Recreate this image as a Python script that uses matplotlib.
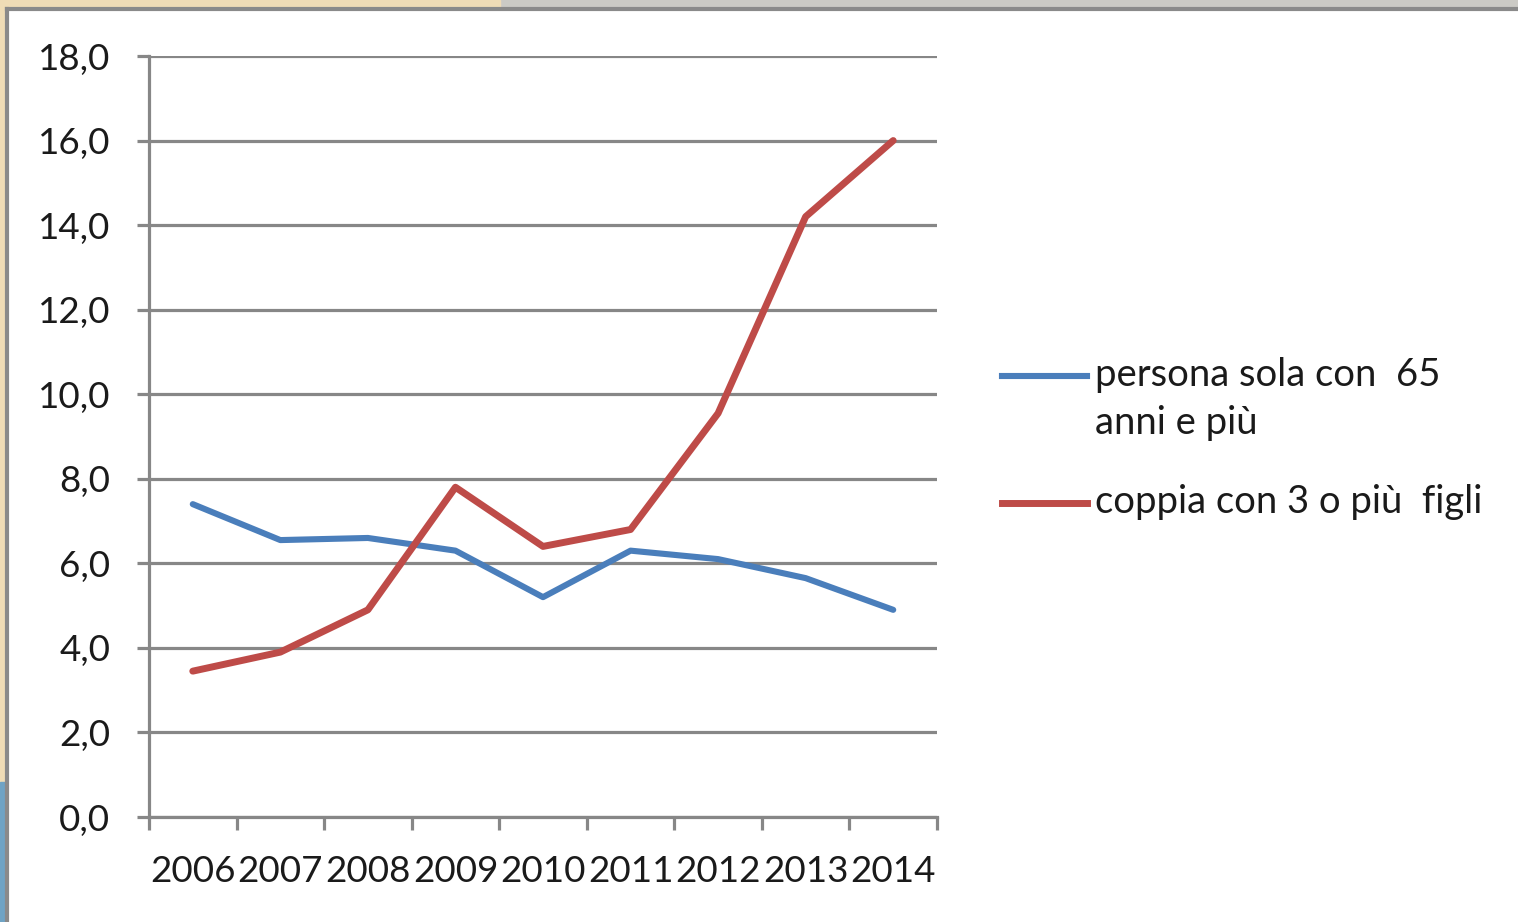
import matplotlib
matplotlib.use("Agg")
import matplotlib.pyplot as plt
from matplotlib.lines import Line2D
from matplotlib.patches import Rectangle
from matplotlib.ticker import FixedLocator, FuncFormatter

years = ["2006", "2007", "2008", "2009", "2010", "2011", "2012", "2013", "2014"]
persona_sola = [7.4, 6.55, 6.6, 6.3, 5.2, 6.3, 6.1, 5.65, 4.9]
coppia_3_figli = [3.45, 3.9, 4.9, 7.8, 6.4, 6.8, 9.55, 14.2, 16.0]
series_labels = ["persona sola con  65\nanni e più", "coppia con 3 o più  figli"]
series_colors = ["#4a7ebb", "#be4b48"]
yticks = [0, 2, 4, 6, 8, 10, 12, 14, 16, 18]

W, H = 1518, 922
fig = plt.figure(figsize=(W / 100, H / 100), dpi=100, facecolor="white")
plt.rcParams["font.family"] = ["Lato", "DejaVu Sans"]

# decorative frame of the screenshot
fig.patches.append(Rectangle((0, 1 - 9 / H), 1, 9 / H, transform=fig.transFigure,
                             color="#cbcac5", zorder=0))
fig.patches.append(Rectangle((0, 1 - 9 / H), 500 / W, 9 / H, transform=fig.transFigure,
                             color="#efdcb6", zorder=0))
fig.patches.append(Rectangle((0, 0), 5 / W, 1, transform=fig.transFigure,
                             color="#efdcb6", zorder=0))
fig.patches.append(Rectangle((0, 0), 5 / W, 140 / H, transform=fig.transFigure,
                             color="#6fa3c4", zorder=0))
fig.add_artist(Line2D([6.5 / W, 6.5 / W], [0, 1 - 9.5 / H], transform=fig.transFigure,
                      color="#8a8a8a", lw=3.0))
fig.add_artist(Line2D([6.5 / W, 1], [1 - 9.5 / H, 1 - 9.5 / H], transform=fig.transFigure,
                      color="#8a8a8a", lw=3.0))

left, right, top, bottom = 149, 937, 56, 817
ax = fig.add_axes([left / W, 1 - bottom / H, (right - left) / W, (bottom - top) / H])
ax.set_facecolor("white")

x = [i + 0.5 for i in range(len(years))]
ax.plot(x, persona_sola, color=series_colors[0], lw=4.4, solid_capstyle="round",
        solid_joinstyle="round", zorder=3)
ax.plot(x, coppia_3_figli, color=series_colors[1], lw=5.0, solid_capstyle="round",
        solid_joinstyle="round", zorder=3)

ax.set_xlim(0, len(years))
ax.set_ylim(0, 18)
grid_c = "#878787"
ax.yaxis.set_major_locator(FixedLocator(yticks))
ax.yaxis.set_major_formatter(FuncFormatter(lambda v, p: f"{v:.1f}".replace(".", ",")))
ax.grid(axis="y", color=grid_c, lw=2.3, zorder=1)
ax.set_axisbelow(True)

ax.xaxis.set_major_locator(FixedLocator(list(range(len(years) + 1))))
ax.xaxis.set_minor_locator(FixedLocator(x))
ax.set_xticklabels([], minor=False)
ax.set_xticklabels(years, minor=True)
ax.tick_params(axis="x", which="major", length=9.5, width=2.3, color=grid_c, direction="out")
ax.tick_params(axis="x", which="minor", length=0, pad=27, labelsize=26.5, labelcolor="#1a1a1a")
ax.tick_params(axis="y", which="major", length=9, width=2.3, color=grid_c, direction="out",
               pad=19, labelsize=26.5, labelcolor="#1a1a1a")

for s in ["top", "right"]:
    ax.spines[s].set_visible(False)
for s in ["left", "bottom"]:
    ax.spines[s].set_color(grid_c)
    ax.spines[s].set_linewidth(2.3)

# legend
leg_y = [376, 503]
for lbl, col, yy, lw in zip(series_labels, series_colors, leg_y, [4.4, 5.0]):
    fig.add_artist(Line2D([1002 / W, 1087 / W], [1 - yy / H, 1 - yy / H],
                          transform=fig.transFigure, color=col, lw=lw))
    fig.text(1095 / W, 1 - (yy - 19) / H, lbl, fontsize=27.5, color="#1a1a1a",
             va="top", ha="left", linespacing=1.42)

fig.savefig("out.png", dpi=100, facecolor=fig.get_facecolor())
